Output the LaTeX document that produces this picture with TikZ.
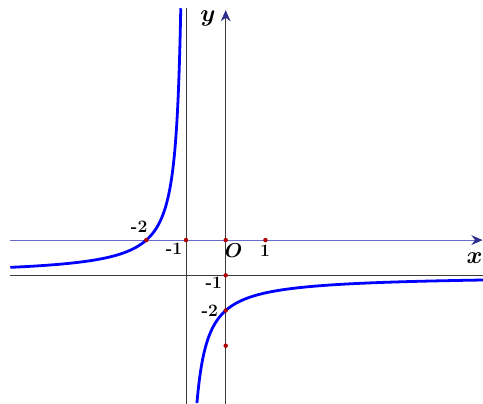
\documentclass[tikz,border=0pt]{standalone}
\usepackage{tikz}
\usetikzlibrary{arrows.meta, positioning}
\definecolor{axblue}{HTML}{6A6AC8}
\definecolor{axnavy}{HTML}{2E2E8C}
\definecolor{ptred}{HTML}{B00000}
\definecolor{asgray}{HTML}{3C3C3C}
\begin{document}
\begin{tikzpicture}[y=0.887cm,
  dot/.style={circle, fill=ptred, inner sep=0pt, minimum size=3.2pt},
  lbl/.style={font=\fontsize{12.5}{14}\selectfont\bfseries\boldmath, inner sep=1pt},
  axlbl/.style={font=\fontsize{17}{19}\selectfont\boldmath, inner sep=1pt},
  asym/.style={asgray, line width=0.7pt},
  branch/.style={blue, line width=2pt, smooth, samples=120, variable=\t},
]
  \useasboundingbox (-5.685,-4.631) rectangle (6.481,6.818);

  % ends of axes and asymptotes
  \coordinate (xl) at (-5.433,0);
  \coordinate (xr) at (6.47,0);
  \coordinate (yb) at (0,-4.7);
  \coordinate (yt) at (0,6.53);
  \coordinate (vb) at (-1,-4.7);
  \coordinate (vt) at (-1,6.59);
  \coordinate (hl) at (-5.433,-1);
  \coordinate (hr) at (6.55,-1);

  % asymptotes
  \draw[asym] (vb) -- (vt);
  \draw[asym] (hl) -- (hr);

  % axes
  \draw[axblue, line width=0.7pt, -{Stealth[color=axnavy, length=8pt, width=7pt]}] (xl) -- (xr);
  \draw[asym, line width=0.6pt, -{Stealth[color=axnavy, length=8pt, width=7pt]}] (yb) -- (yt);

  % graph y = -1 - 1/(x+1)
  \draw[branch, domain=-2.026:1.489] plot ({-1-exp(\t)}, {-1+exp(-\t)});
  \draw[branch, domain=-1.289:2.02] plot ({-1+exp(\t)}, {-1-exp(-\t)});

  % marked points
  \node[dot] (pm2) at (-2,0) {};
  \node[dot] (pm1) at (-1,0) {};
  \node[dot] (po) at (0,0) {};
  \node[dot] (p1) at (1,0) {};
  \node[dot] (qm1) at (0,-1) {};
  \node[dot] (qm2) at (0,-2) {};
  \node[dot] (qm3) at (0,-3) {};

  % labels
  \node[lbl] (lm2) at (-2.18,0.37) {-2};
  \node[lbl] (lm1) at (-1.30,-0.26) {-1};
  \node[axlbl, font=\fontsize{14}{16}\selectfont\boldmath] (lo) at (0.20,-0.29) {$O$};
  \node[lbl] (l1) at (0.99,-0.31) {1};
  \node[lbl] (km1) at (-0.30,-1.22) {-1};
  \node[lbl] (km2) at (-0.40,-2.02) {-2};
  \node[axlbl] (ly) at (-0.45,6.29) {$y$};
  \node[axlbl] (lx) at (6.27,-0.52) {$x$};
\end{tikzpicture}
\end{document}
